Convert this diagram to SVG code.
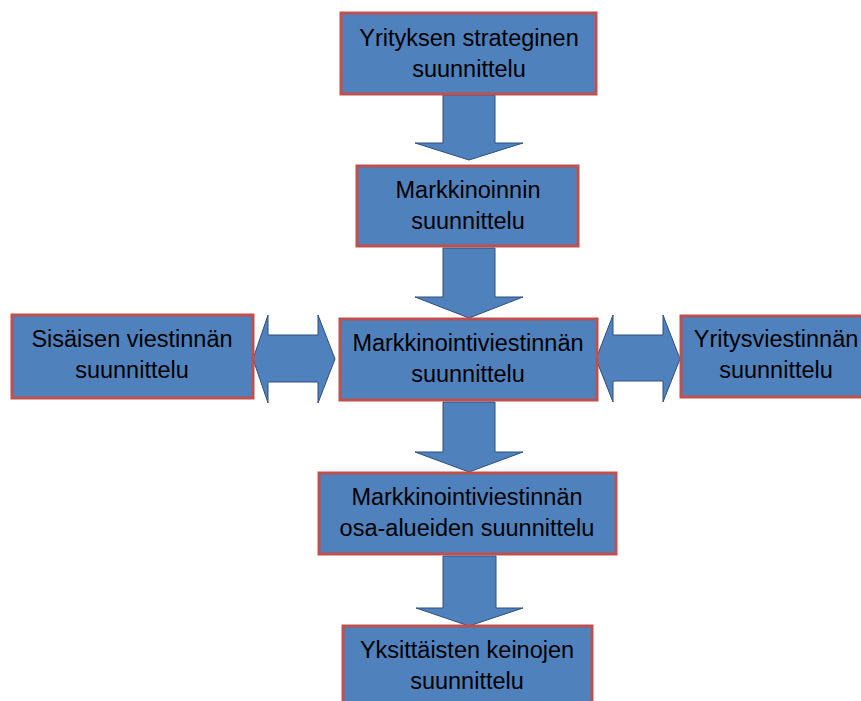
<svg xmlns="http://www.w3.org/2000/svg" width="861" height="701" viewBox="0 0 861 701">
<style>
.box{fill:#4F81BD;stroke:#C0504D;stroke-width:3}
.arr{fill:#4F81BD;stroke:#2F4F7F;stroke-width:1}
text{font-family:"Liberation Sans",Arial,sans-serif;font-size:23.5px;fill:#000;text-anchor:middle}
</style>
<rect width="861" height="701" fill="#fff"/>
<g id="connectors">
<path class="arr" d="M443,95 H495 V143 H523 L469,160 L415,143 H443 Z"/>
<path class="arr" d="M443,248 H495 V297 H523 L469,318 L415,297 H443 Z"/>
<path class="arr" d="M443,402 H495 V452 H523 L469,472 L415,452 H443 Z"/>
<path class="arr" d="M443,556 H496 V608 H523 L469,626 L416,608 H443 Z"/>
<path class="arr" d="M253,359 L268,315 V335 H318 V315 L335,359 L318,403 V382 H268 V403 Z"/>
<path class="arr" d="M596,359 L613,315 V335 H663 V315 L680,359 L663,402 V381 H613 V402 Z"/>
</g>
<g id="n1"><rect class="box" x="341" y="13" width="255" height="81"/><text x="469" y="46">Yrityksen strateginen</text><text x="469" y="77">suunnittelu</text></g>
<g id="n2"><rect class="box" x="357" y="166" width="221" height="80"/><text x="468" y="198">Markkinoinnin</text><text x="468" y="229">suunnittelu</text></g>
<g id="n3"><rect class="box" x="340" y="319" width="257" height="81"/><text x="468" y="351">Markkinointiviestinnän</text><text x="468" y="382">suunnittelu</text></g>
<g id="n4"><rect class="box" x="12" y="315" width="241" height="83"/><text x="132" y="347">Sisäisen viestinnän</text><text x="132" y="378">suunnittelu</text></g>
<g id="n5"><rect class="box" x="681" y="316" width="190" height="81"/><text x="776" y="347">Yritysviestinnän</text><text x="776" y="378">suunnittelu</text></g>
<g id="n6"><rect class="box" x="319" y="473" width="297" height="81"/><text x="467" y="505">Markkinointiviestinnän</text><text x="467" y="536">osa-alueiden suunnittelu</text></g>
<g id="n7"><rect class="box" x="343" y="626" width="249" height="82"/><text x="467" y="658">Yksittäisten keinojen</text><text x="467" y="689">suunnittelu</text></g>
</svg>
